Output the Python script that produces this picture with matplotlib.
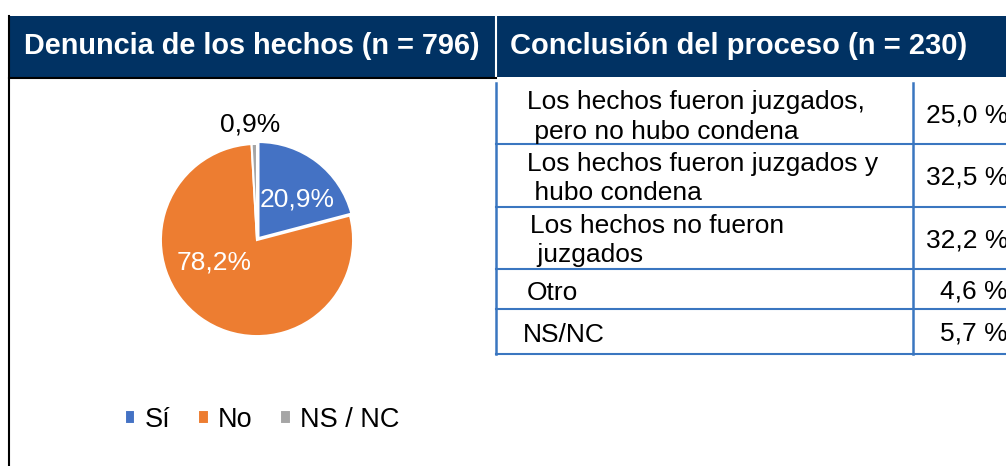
import matplotlib.pyplot as plt
from matplotlib.patches import Rectangle

plt.rcParams['font.family'] = ['Liberation Sans', 'DejaVu Sans']

# --- data ---
pie_labels = ["Sí", "No", "NS / NC"]
pie_values = [20.9, 78.2, 0.9]
pie_text = ["20,9%", "78,2%", "0,9%"]
pie_colors = ["#4472C4", "#ED7D31", "#A5A5A5"]

left_title = "Denuncia de los hechos (n = 796)"
right_title = "Conclusión del proceso (n = 230)"

table_rows = [
    "Los hechos fueron juzgados,\n pero no hubo condena",
    "Los hechos fueron juzgados y\n hubo condena",
    "Los hechos no fueron\n juzgados",
    "Otro",
    "NS/NC",
]
table_values = ["25,0 %", "32,5 %", "32,2 %", "4,6 %", "5,7 %"]

NAVY = "#013263"
LINE = "#3A76C0"

W, H = 1006, 466
fig = plt.figure(figsize=(W / 100, H / 100), dpi=100)
cv = fig.add_axes([0, 0, 1, 1])
cv.set_xlim(0, W)
cv.set_ylim(H, 0)
cv.axis("off")

# header band
cv.add_patch(Rectangle((9, 16), W - 9, 61, facecolor=NAVY, edgecolor="none"))
cv.plot([496, 496], [16, 77], color="white", lw=1.5)
cv.text(252, 46, left_title, color="white", fontsize=20.8, fontweight="bold",
        ha="center", va="center")
cv.text(510, 46, right_title, color="white", fontsize=21, fontweight="bold",
        ha="left", va="center")

# left panel border
cv.plot([9, 9], [16, H], color="black", lw=1.5)
cv.plot([9, 496], [77.5, 77.5], color="black", lw=1.5)

# table
row_edges = [83, 144, 207, 269, 309, 354]
cv.plot([496, 496], [row_edges[0], row_edges[-1]], color=LINE, lw=1.8)
cv.plot([913, 913], [row_edges[0], row_edges[-1]], color=LINE, lw=1.8)
for y in row_edges[1:]:
    cv.plot([496, W], [y, y], color=LINE, lw=1.5)

label_x = [527, 527, 530, 527, 523]
label_dy = [3.5, 3, 2.5, 3.5, 4]
for i, (lab, val) in enumerate(zip(table_rows, table_values)):
    yc = (row_edges[i] + row_edges[i + 1]) / 2
    cv.text(label_x[i], yc + label_dy[i], lab, fontsize=19, ha="left", va="center",
            linespacing=1.27, color="black")
    cv.text(1008, yc + 2.5, val, fontsize=19, ha="right", va="center", color="black")

# pie
cx, cy, r = 257, 240, 98
pax = fig.add_axes([(cx - r) / W, (H - cy - r) / H, 2 * r / W, 2 * r / H])
wedges, _ = pax.pie(pie_values, colors=pie_colors, startangle=90, counterclock=False,
                    explode=[0.025, 0, 0],
                    wedgeprops=dict(edgecolor="white", linewidth=1.5))
pax.set_xlim(-1.02, 1.02)
pax.set_ylim(-1.02, 1.02)
pax.set_aspect("equal")

label_pos = [(0.42, 0.42), (-0.45, -0.23), (-0.07, 1.2)]
label_col = ["white", "white", "black"]
for (x, y), t, c in zip(label_pos, pie_text, label_col):
    pax.text(x, y, t, fontsize=19, color=c, ha="center", va="center")

fig.legend(wedges, pie_labels, loc="center", bbox_to_anchor=(262 / W, 1 - 420 / H),
           ncol=3, frameon=False, fontsize=19.5, handlelength=0.4, handleheight=0.4,
           handletextpad=0.35, columnspacing=1.0)

fig.savefig("out.png", dpi=100)
